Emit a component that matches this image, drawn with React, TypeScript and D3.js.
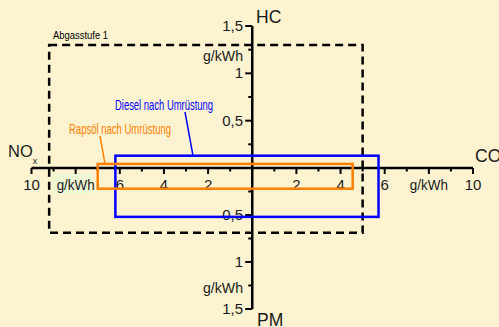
import React from "react";
import * as d3 from "d3";

// ---- data ----
const xMajorTicks = [-10, -8, -6, -4, -2, 2, 4, 6, 8, 10];
const xMinorTicks = [-9, -7, -5, -3, -1, 1, 3, 5, 7, 9];
const xTickLabels = [
  { v: -10, t: "10" }, { v: -8, t: "g/kWh" }, { v: -6, t: "6" }, { v: -4, t: "4" }, { v: -2, t: "2" },
  { v: 2, t: "2" }, { v: 4, t: "4" }, { v: 6, t: "6" }, { v: 8, t: "g/kWh" }, { v: 10, t: "10" },
];
const yMajorTicks = [0.5, 1, 1.5];
const yMinorTicks = [0.25, 0.75, 1.25];
const yUpLabels = [
  { v: 0.5, t: "0,5" }, { v: 1, t: "1" }, { v: 1.25, t: "g/kWh" }, { v: 1.5, t: "1,5" },
];
const yDownLabels = [
  { v: 0.5, t: "0,5" }, { v: 1, t: "1" }, { v: 1.25, t: "g/kWh" }, { v: 1.5, t: "1,5" },
];
// boxes: NOx (left), CO (right), HC (up), PM (down) in g/kWh
const limitBox = { name: "Abgasstufe 1", nox: 9.2, co: 5.0, hc: 1.3, pm: 0.69 };
const dieselBox = { name: "Diesel nach Umrüstung", nox: 6.2, co: 5.72, hc: 0.13, pm: 0.52 };
const rapsBox = { name: "Rapsöl nach Umrüstung", nox: 7.0, co: 4.55, hc: 0.043, pm: 0.22 };

const W = 499;
const H = 327;
const BG = "#FDF3D0";
const FONT = "'Liberation Sans', Arial, sans-serif";

export default function App() {
  const x = d3.scaleLinear().domain([-10, 10]).range([31.5, 473]);
  const yUp = d3.scaleLinear().domain([0, 1.5]).range([168, 26]);
  const yDown = d3.scaleLinear().domain([0, 1.5]).range([168, 309]);
  const cx = x(0);

  const rect = (b: { nox: number; co: number; hc: number; pm: number }) => ({
    x: x(-b.nox),
    y: yUp(b.hc),
    w: x(b.co) - x(-b.nox),
    h: yDown(b.pm) - yUp(b.hc),
  });
  const lim = rect(limitBox);
  const die = rect(dieselBox);
  const rap = rect(rapsBox);

  return (
    <svg
      width={W}
      height={H}
      style={{ position: "fixed", left: 0, top: 0, fontFamily: FONT }}
    >
      <rect x={0} y={0} width={W} height={H} fill={BG} />

      {/* light green box behind left unit label */}
      <rect x={52} y={173} width={41} height={21} fill="#EEF6D4" />

      {/* limit box */}
      <rect
        x={lim.x}
        y={lim.y}
        width={lim.w}
        height={lim.h}
        fill="none"
        stroke="#000"
        strokeWidth={2.5}
        strokeDasharray="8,5"
      />
      <text x={53} y={38.5} fontSize={11.5} textLength={55} lengthAdjust="spacingAndGlyphs" fill="#000">
        {limitBox.name}
      </text>

      {/* axes */}
      <line x1={x(-10)} x2={x(10)} y1={168} y2={168} stroke="#000" strokeWidth={2.5} />
      <line x1={cx} x2={cx} y1={yUp(1.5)} y2={yDown(1.5)} stroke="#000" strokeWidth={2.5} />

      {xMajorTicks.map((v) => (
        <line key={"xM" + v} x1={x(v)} x2={x(v)} y1={168} y2={174} stroke="#000" strokeWidth={2} />
      ))}
      {xMinorTicks.map((v) => (
        <line key={"xm" + v} x1={x(v)} x2={x(v)} y1={168} y2={171.5} stroke="#000" strokeWidth={2} />
      ))}
      {yMajorTicks.map((v) => (
        <g key={"yM" + v}>
          <line x1={cx - 7} x2={cx} y1={yUp(v)} y2={yUp(v)} stroke="#000" strokeWidth={2} />
          <line x1={cx - 7} x2={cx} y1={yDown(v)} y2={yDown(v)} stroke="#000" strokeWidth={2} />
        </g>
      ))}
      {yMinorTicks.map((v) => (
        <g key={"ym" + v}>
          <line x1={cx - 4} x2={cx} y1={yUp(v)} y2={yUp(v)} stroke="#000" strokeWidth={2} />
          <line x1={cx - 4} x2={cx} y1={yDown(v)} y2={yDown(v)} stroke="#000" strokeWidth={2} />
        </g>
      ))}

      {/* x tick labels */}
      {xTickLabels.map((d, i) => (
        <text key={"xl" + i} x={x(d.v)} y={190} fontSize={15} textAnchor="middle" fill="#1a1a1a"
          textLength={d.t.length > 2 ? 38 : undefined} lengthAdjust="spacingAndGlyphs">
          {d.t}
        </text>
      ))}
      {/* y tick labels */}
      {yUpLabels.map((d, i) => (
        <text key={"yu" + i} x={243} y={yUp(d.v) + (d.t === "g/kWh" ? 11 : 5)} fontSize={15}
          textAnchor="end" fill="#1a1a1a" textLength={d.t.length > 3 ? 40 : undefined} lengthAdjust="spacingAndGlyphs">
          {d.t}
        </text>
      ))}
      {yDownLabels.map((d, i) => (
        <text key={"yd" + i} x={243} y={yDown(d.v) + (d.t === "g/kWh" ? 7 : 5)} fontSize={15}
          textAnchor="end" fill="#1a1a1a" textLength={d.t.length > 3 ? 40 : undefined} lengthAdjust="spacingAndGlyphs">
          {d.t}
        </text>
      ))}

      {/* axis titles */}
      <text x={256} y={23} fontSize={17.5} fill="#1a1a1a">HC</text>
      <text x={257} y={326} fontSize={17.5} fill="#1a1a1a">PM</text>
      <text x={475} y={161.5} fontSize={17.5} fill="#1a1a1a">CO</text>
      <text x={8} y={156.5} fontSize={16.5} fill="#1a1a1a">
        NO
        <tspan fontSize={9} dy={7}>x</tspan>
      </text>

      {/* diesel box */}
      <rect x={die.x} y={die.y} width={die.w} height={die.h} fill="none" stroke="#0000FF" strokeWidth={2.5} />
      <line x1={185} y1={112} x2={193} y2={die.y} stroke="#0000FF" strokeWidth={1.5} />
      <text x={115} y={110} fontSize={14.5} textLength={98} lengthAdjust="spacingAndGlyphs" fill="#0000FF">
        {dieselBox.name}
      </text>

      {/* rapeseed box */}
      <rect x={rap.x} y={rap.y} width={rap.w} height={rap.h} fill="none" stroke="#FF8000" strokeWidth={2.5} />
      <line x1={100} y1={136} x2={105} y2={rap.y} stroke="#FF8000" strokeWidth={1.5} />
      <text x={69} y={134} fontSize={14.5} textLength={102} lengthAdjust="spacingAndGlyphs" fill="#FF8000">
        {rapsBox.name}
      </text>
    </svg>
  );
}
